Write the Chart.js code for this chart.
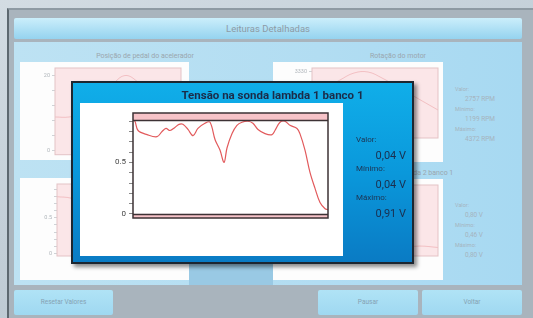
<!DOCTYPE html>
<html lang="pt-BR">
<head>
<meta charset="utf-8">
<script src="https://cdn.jsdelivr.net/npm/chart.js@4.4.1/dist/chart.umd.min.js"></script>
<style>
    * { box-sizing: border-box; }
    body { margin: 0; width: 533px; height: 318px; overflow: hidden; position: relative; font-family: Roboto, "Noto Sans", sans-serif;
        background: linear-gradient(160deg, #d3dce3 0%, #c3cfd8 45%, #b4c0ca 100%); }
    .abs { position: absolute; }
    .janela { left: 7px; top: 8px; width: 526px; height: 310px; background: #a9b4bd; border-left: 2px solid #5d6870; border-top: 2px solid #8e9aa3; }
    .barra-titulo { left: 14px; top: 18px; width: 508px; height: 21px; border-radius: 2px;
        background: linear-gradient(#cbeefb, #95d3ef); color: #8d9ba6; font-size: 9.5px; text-align: center; line-height: 21px; }
    .painel { left: 14px; top: 42px; width: 508px; height: 243px; background: linear-gradient(90deg, #bde2f3 0%, #b2ddf2 60%, #a7d9f2 100%); }
    .caixa { background: #fdfdfd; }
    .titulo-mini { color: #9aa6ae; font-size: 7px; text-align: center; }
    .info { color: #a5b4bf; font-size: 5.5px; line-height: 10px; }
    .info b { display: block; font-weight: normal; padding-left: 10px; font-size: 6.5px; }
    .botao { top: 290px; height: 25px; background: linear-gradient(#b0e3f6, #9fd8f1); color: #86a2b3; font-size: 6.5px; text-align: center; line-height: 25px; border-radius: 2px; }
    .popup { left: 71px; top: 81px; width: 343px; height: 183px; border: 2px solid #1d2630;
        background: linear-gradient(#10aee9 0%, #0a98db 50%, #0a7bc4 100%); box-shadow: 3px 3px 4px rgba(0,0,0,0.45); }
    .popup-titulo { left: 0; top: 5px; width: 100%; padding-left: 60px; text-align: center; color: #1b2b48; font-weight: bold; font-size: 11.5px; }
    .rot { color: #1d3352; font-size: 8px; left: 283px; width: 50px; }
    .val { color: #1b2f4f; font-size: 11px; left: 283px; width: 50px; text-align: right; }
</style>
</head>
<body>
<div class="abs janela"></div>
<div class="abs barra-titulo">Leituras Detalhadas</div>
<div class="abs painel"></div>

<div class="abs titulo-mini" style="left:20px;top:52px;width:250px;">Posição de pedal do acelerador</div>
<div class="abs caixa" style="left:20px;top:62px;width:169px;height:98px;"></div>
<canvas id="graficoPedal" class="abs" style="left:20px;top:62px;" width="169" height="98"></canvas>

<div class="abs titulo-mini" style="left:273px;top:52px;width:250px;">Rotação do motor</div>
<div class="abs caixa" style="left:273px;top:62px;width:170px;height:100px;"></div>
<canvas id="graficoRotacao" class="abs" style="left:273px;top:62px;" width="170" height="100"></canvas>
<div class="abs info" style="left:455px;top:84px;">Valor:<b>2757 RPM</b>Mínimo:<b>1199 RPM</b>Máximo:<b>4372 RPM</b></div>

<div class="abs titulo-mini" style="left:273px;top:169px;width:250px;">Tensão na sonda lambda 2 banco 1</div>
<div class="abs" style="left:189px;top:166px;width:84px;height:119px;background:#99c9e4;"></div>
<div class="abs caixa" style="left:20px;top:178px;width:169px;height:102px;"></div>
<canvas id="graficoPedal2" class="abs" style="left:20px;top:178px;" width="169" height="102"></canvas>
<div class="abs caixa" style="left:273px;top:179px;width:170px;height:101px;"></div>
<canvas id="graficoLambda2" class="abs" style="left:273px;top:179px;" width="170" height="101"></canvas>
<div class="abs info" style="left:455px;top:200px;">Valor:<b>0,80 V</b>Mínimo:<b>0,46 V</b>Máximo:<b>0,80 V</b></div>

<div class="abs botao" style="left:14px;width:99px;">Resetar Valores</div>
<div class="abs botao" style="left:318px;width:100px;">Pausar</div>
<div class="abs botao" style="left:422px;width:100px;">Voltar</div>

<div class="abs popup">
    <div class="abs popup-titulo">Tensão na sonda lambda 1 banco 1</div>
    <div class="abs caixa" style="left:7px;top:20px;width:263px;height:153px;background:#fff;"></div>
    <canvas id="graficoPrincipal" class="abs" style="left:7px;top:20px;" width="263" height="153"></canvas>
    <div class="abs rot" style="top:52px;">Valor:</div>
    <div class="abs val" style="top:66px;">0,04 V</div>
    <div class="abs rot" style="top:81px;">Mínimo:</div>
    <div class="abs val" style="top:95px;">0,04 V</div>
    <div class="abs rot" style="top:110px;">Máximo:</div>
    <div class="abs val" style="top:124px;">0,91 V</div>
</div>

<script>
// --- DADOS DO GRÁFICO PRINCIPAL (sonda lambda 1 banco 1) ---
const tempos = [0, 1, 2.6, 7.2, 12.3, 14.9, 16.9, 19, 21.5, 23.6, 25.6, 28.2, 30.8, 33.3, 36.9, 39.5, 42.1, 44.6, 46.7, 48.2,
    50.8, 53.3, 55.9, 59, 61.5, 64.1, 67.7, 71.3, 72.8, 75.4, 77.9, 80.5, 84.1, 85.6, 88.2, 90.8, 93.3, 95.9, 98.5, 100];
const tensao = [0.91, 0.90, 0.81, 0.77, 0.75, 0.80, 0.83, 0.81, 0.84, 0.87, 0.87, 0.82, 0.76, 0.83, 0.88, 0.89, 0.72, 0.62, 0.50, 0.64,
    0.78, 0.86, 0.89, 0.90, 0.88, 0.82, 0.78, 0.77, 0.81, 0.89, 0.90, 0.86, 0.83, 0.78, 0.62, 0.40, 0.25, 0.11, 0.05, 0.04];
const marcasY = [0, 0.1, 0.2, 0.3, 0.4, 0.5, 0.6, 0.7, 0.8, 0.9];
const rotulosY = { 0: '0', 0.5: '0.5' };
const limiteMin = 0, limiteMax = 0.91;

// --- DADOS DOS GRÁFICOS DE FUNDO ---
const rotacao = [2100, 2500, 2900, 3250, 3300, 3000, 2600, 2200, 1800, 1400];
const pedal = [9, 9, 10, 12, 17, 20, 18, 14, 10, 9];
const lambda2 = [0.80, 0.78, 0.70, 0.62, 0.55, 0.50, 0.48, 0.46, 0.47, 0.46];

// Plugin que pinta as faixas fora do limite e a moldura da área do gráfico
const faixasPlugin = {
    id: 'faixas',
    beforeDatasetsDraw(chart, args, opts) {
        const { ctx, chartArea: a, scales: { y } } = chart;
        ctx.save();
        if (opts.fundo) { ctx.fillStyle = opts.fundo; ctx.fillRect(a.left, a.top, a.width, a.height); }
        (opts.faixas || []).forEach(f => {
            const y1 = y.getPixelForValue(f[1]), y0 = y.getPixelForValue(f[0]);
            ctx.fillStyle = opts.corFaixa;
            ctx.fillRect(a.left, y1, a.width, y0 - y1);
        });
        ctx.restore();
    },
    afterDatasetsDraw(chart, args, opts) {
        const { ctx, chartArea: a, scales: { y } } = chart;
        ctx.save();
        ctx.strokeStyle = opts.corBorda;
        ctx.lineWidth = opts.larguraBorda;
        (opts.linhas || []).forEach(v => {
            const py = Math.round(y.getPixelForValue(v)) + 0.5;
            ctx.beginPath(); ctx.moveTo(a.left, py); ctx.lineTo(a.right, py); ctx.stroke();
        });
        ctx.strokeRect(a.left, a.top, a.width, a.height);
        ctx.restore();
    }
};

new Chart(document.getElementById('graficoPrincipal'), {
    type: 'line',
    data: {
        datasets: [{
            data: tempos.map((t, i) => ({ x: t, y: tensao[i] })),
            borderColor: '#e25a5c', borderWidth: 1.2, pointRadius: 0, tension: 0.35, fill: false
        }]
    },
    options: {
        responsive: false, animation: false,
        layout: { padding: { top: 10, right: 15, bottom: 38, left: 0 } },
        plugins: {
            legend: { display: false }, tooltip: { enabled: false },
            faixas: { faixas: [[limiteMax, 0.98], [-0.04, limiteMin]], linhas: [limiteMin, limiteMax], corFaixa: '#f7c3c8', corBorda: '#3d3235', larguraBorda: 1.5 }
        },
        scales: {
            x: { type: 'linear', min: 0, max: 100, display: false },
            y: {
                min: -0.04, max: 0.98,
                afterBuildTicks: s => { s.ticks = marcasY.map(v => ({ value: v })); },
                afterFit: s => { s.width = 53; },
                ticks: { autoSkip: false, padding: 3, color: '#444', font: { family: 'Roboto', size: 8 }, callback: v => rotulosY[Math.round(v * 10) / 10] || '' },
                grid: { drawOnChartArea: false, tickLength: 4, color: '#888' },
                border: { display: false }
            }
        }
    },
    plugins: [faixasPlugin]
});

// Gráficos de fundo, bem apagados
function miniGrafico(id, valores, min, max, marcas, rotulos, padding, faixas) {
    new Chart(document.getElementById(id), {
        type: 'line',
        data: { labels: valores.map((v, i) => i), datasets: [{ data: valores, borderColor: 'rgba(225,120,125,0.35)', borderWidth: 1, pointRadius: 0, tension: 0.4 }] },
        options: {
            responsive: false, animation: false,
            layout: { padding: padding },
            plugins: { legend: { display: false }, tooltip: { enabled: false },
                faixas: { fundo: '#fbe6e8', faixas: faixas, corFaixa: '#fbe0e3', linhas: [], corBorda: '#e4c3c6', larguraBorda: 1 } },
            scales: {
                x: { display: false },
                y: { min: min, max: max,
                    afterBuildTicks: s => { s.ticks = marcas.map(v => ({ value: v })); },
                    afterFit: s => { s.width = padding.eixo; },
                    ticks: { autoSkip: false, padding: 2, color: '#b0b6bb', font: { family: 'Roboto', size: 5.5 }, callback: v => rotulos[v] || '' },
                    grid: { drawOnChartArea: false, tickLength: 3, color: '#cfd3d6' }, border: { display: false } }
            }
        },
        plugins: [faixasPlugin]
    });
}
miniGrafico('graficoPedal', pedal, -1, 22, [0, 4, 8, 12, 16, 20], { 0: '0', 20: '20' }, { top: 6, right: 8, bottom: 2, left: 0, eixo: 35 }, []);
miniGrafico('graficoRotacao', rotacao, 0, 3500, [3330], { 3330: '3330' }, { top: 6, right: 5, bottom: 24, left: 0, eixo: 39 }, []);
miniGrafico('graficoPedal2', lambda2, -0.04, 0.98, [0, 0.1, 0.2, 0.3, 0.4, 0.5, 0.6, 0.7, 0.8, 0.9], { 0: '0', 0.5: '0.5' }, { top: 6, right: 8, bottom: 24, left: 0, eixo: 37 }, []);
miniGrafico('graficoLambda2', lambda2, 0.4, 0.9, [], {}, { top: 6, right: 5, bottom: 24, left: 0, eixo: 0 }, []);
</script>
</body>
</html>
